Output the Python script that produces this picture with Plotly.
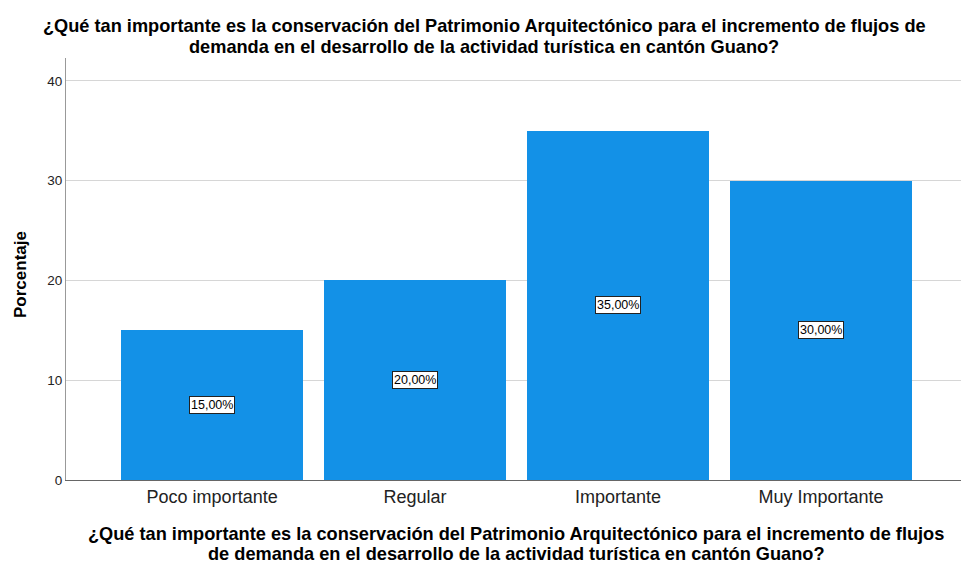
import plotly.graph_objects as go

categories = ["Poco importante", "Regular", "Importante", "Muy Importante"]
values = [15.0, 20.0, 35.0, 30.0]
labels = ["15,00%", "20,00%", "35,00%", "30,00%"]
y_ticks = [0, 10, 20, 30, 40]

title_lines = ["¿Qué tan importante es la conservación del Patrimonio Arquitectónico para el incremento de flujos de",
               "demanda en el desarrollo de la actividad turística en cantón Guano?"]
xtitle_lines = ["¿Qué tan importante es la conservación del Patrimonio Arquitectónico para el incremento de flujos",
                "de demanda en el desarrollo de la actividad turística en cantón Guano?"]

FONT = "Liberation Sans, Arial, sans-serif"
L, R, T, B = 66, 0, 58, 83
W, H = 961, 563
PW = W - L - R
PH = H - T - B

fig = go.Figure()
fig.add_trace(go.Bar(
    x=list(range(len(categories))), y=values,
    marker=dict(color="#1391E7", line=dict(width=0)),
    width=0.897, hoverinfo="skip",
))

for i, (v, lab) in enumerate(zip(values, labels)):
    fig.add_annotation(x=i, y=v / 2, xref="x", yref="y", text=lab, showarrow=False,
                       font=dict(family=FONT, size=12.5, color="black"),
                       bgcolor="white", bordercolor="#222", borderwidth=1, borderpad=1)

# top title, two lines
for txt, yc in zip(title_lines, [26, 46.8]):
    fig.add_annotation(x=(484 - L) / PW, y=1, xref="paper", yref="paper", yshift=T - yc,
                       text="<b>" + txt + "</b>", showarrow=False,
                       xanchor="center", yanchor="middle",
                       font=dict(family=FONT, size=18.2, color="black"))

# x-axis title, two lines
for txt, yc in zip(xtitle_lines, [533.5, 554.3]):
    fig.add_annotation(x=(516 - L) / PW, y=0, xref="paper", yref="paper", yshift=(H - B) - yc,
                       text="<b>" + txt + "</b>", showarrow=False,
                       xanchor="center", yanchor="middle",
                       font=dict(family=FONT, size=18.2, color="black"))

# y-axis title
fig.add_annotation(x=(20 - L) / PW, y=(H - B - 275) / PH, xref="paper", yref="paper",
                   text="<b>Porcentaje</b>", showarrow=False, textangle=-90,
                   xanchor="center", yanchor="middle",
                   font=dict(family=FONT, size=17, color="black"))

fig.update_layout(
    width=W, height=H, autosize=False,
    margin=dict(l=L, r=R, t=T, b=B, pad=0),
    plot_bgcolor="white", paper_bgcolor="white",
    showlegend=False,
    bargap=0,
    xaxis=dict(
        range=[-0.72, 3.69],
        tickmode="array", tickvals=list(range(len(categories))), ticktext=categories,
        tickfont=dict(family=FONT, size=18, color="#222"),
        showgrid=False, zeroline=False,
        showline=True, linecolor="#666", linewidth=1,
        ticks="", ticklen=0,
    ),
    yaxis=dict(
        range=[0, 42.3],
        tickmode="array", tickvals=y_ticks, ticktext=[str(t) for t in y_ticks],
        tickfont=dict(family=FONT, size=13.5, color="#222"),
        showgrid=True, gridcolor="#d6d6d6", gridwidth=1,
        zeroline=False,
        showline=True, linecolor="#999", linewidth=1,
        ticks="", ticklen=0,
    ),
)

post = ("document.body.style.margin='0';document.body.style.padding='0';"
        "document.body.style.overflow='hidden';"
        "var gd=document.getElementById('{plot_id}');"
        "Plotly.relayout(gd,{width:961,height:563,autosize:false});")

fig.write_html("out.html", config={"responsive": False, "displayModeBar": False}, post_script=post)
